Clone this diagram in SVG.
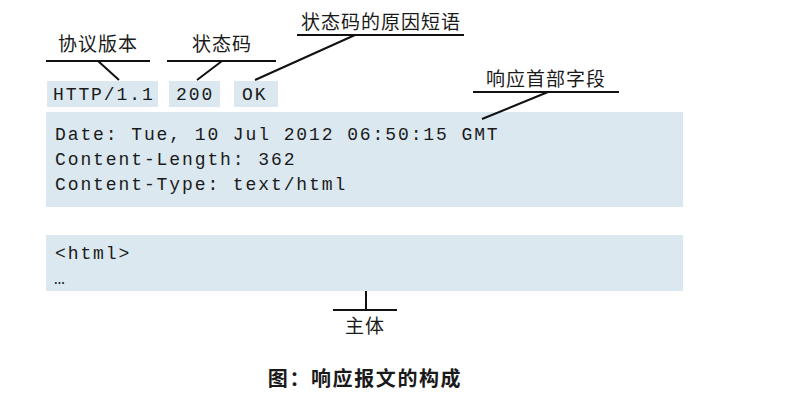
<svg xmlns="http://www.w3.org/2000/svg" width="786" height="402" viewBox="0 0 786 402">
<style>
.box{fill:#dbe8f0}
.mono{font-family:"Liberation Mono","DejaVu Sans Mono",monospace;font-size:18px;letter-spacing:1.9px;fill:#1a1a1a}
.lbl{font-family:"Noto Sans CJK SC","Noto Sans",sans-serif;font-size:19px;letter-spacing:1px;fill:#1a1a1a;text-anchor:middle}
.cap{font-family:"Noto Sans CJK SC","Noto Sans",sans-serif;font-size:20px;font-weight:bold;letter-spacing:1.6px;fill:#1a1a1a;text-anchor:middle}
.ln{stroke:#111;stroke-width:2;fill:none}
</style>
<rect width="786" height="402" fill="#fff"/>
<g id="version">
<rect class="box" x="47" y="81" width="111" height="26"/>
<text class="mono" x="53" y="100">HTTP/1.1</text>
</g>
<g id="status">
<rect class="box" x="169" y="81" width="51" height="26"/>
<text class="mono" x="176" y="100">200</text>
</g>
<g id="reason">
<rect class="box" x="234" y="81" width="44" height="26"/>
<text class="mono" x="242" y="100">OK</text>
</g>
<g id="headers">
<rect class="box" x="46" y="112" width="637" height="95"/>
<text class="mono" x="55" y="140">Date: Tue, 10 Jul 2012 06:50:15 GMT</text>
<text class="mono" x="55" y="165">Content-Length: 362</text>
<text class="mono" x="55" y="190">Content-Type: text/html</text>
</g>
<g id="body">
<rect class="box" x="46" y="235" width="637" height="56"/>
<text class="mono" x="55" y="259">&lt;html&gt;</text>
<text class="mono" x="54" y="284" style="letter-spacing:0">…</text>
</g>
<g id="label-version"><text class="lbl" x="98" y="51">协议版本</text></g>
<g id="label-status"><text class="lbl" x="222" y="51">状态码</text></g>
<g id="label-reason"><text class="lbl" x="381" y="29">状态码的原因短语</text></g>
<g id="label-headers"><text class="lbl" x="546" y="86">响应首部字段</text></g>
<g id="label-body"><text class="lbl" x="365" y="333">主体</text></g>
<g id="connectors">
<path class="ln" d="M46 61H150M98 61L119 80"/>
<path class="ln" d="M167 61H276M222 61L197 80"/>
<path class="ln" d="M297 35H464M355 35L255 80"/>
<path class="ln" d="M473 92H619M548 92L482 119"/>
<path class="ln" d="M366 291V310M333 310H397"/>
</g>
<text class="cap" x="365" y="386">图：响应报文的构成</text>
</svg>
